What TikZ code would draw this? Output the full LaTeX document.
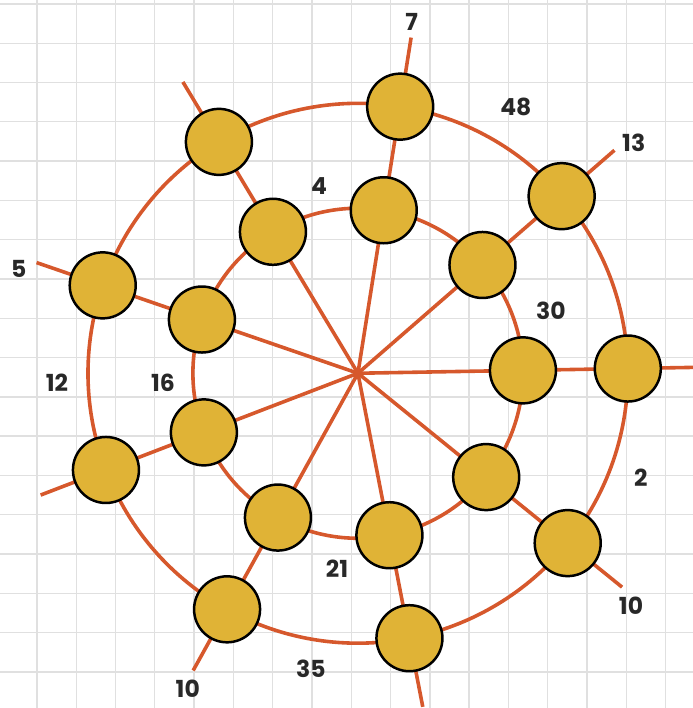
\documentclass[tikz,border=0pt]{standalone}
\usepackage{fontspec}
\setmainfont{Poppins}
\usetikzlibrary{backgrounds}
\definecolor{road}{RGB}{214,88,44}
\definecolor{bead}{RGB}{224,179,54}
\definecolor{ink}{RGB}{40,40,40}
\definecolor{paper}{RGB}{224,224,224}
\tikzset{
  stone/.style={circle,draw=black,line width=1.8pt,fill=bead,minimum size=1.68cm,inner sep=0pt},
  path/.style={draw=road,line width=2.6pt},
  weight/.style={text=ink,font=\bfseries\fontsize{17}{20}\selectfont},
}
\begin{document}
\begin{tikzpicture}
  \useasboundingbox (0,0) rectangle (17.63,18.02);
  \clip (0,0) rectangle (17.63,18.02);
  \coordinate (c) at (9.11,8.52);
  \begin{scope}[shift={(9.11,8.52)}]
    \foreach \k in {0,...,8} {
      \pgfmathsetmacro{\a}{1+40*\k}
      \node[stone] (i\k) at (\a:4.2) {};
      \node[stone] (o\k) at (\a:6.87) {};
      \coordinate (e\k) at (\a:8.65);
    }
  \end{scope}
  \begin{scope}[on background layer]
    \draw[paper,line width=1pt,shift={(0.94,0.92)}] (-1,-1) grid (17,18);
    \foreach \k [evaluate=\k as \n using {int(mod(\k+1,9))}] in {0,...,8} {
      \draw[path] (c) -- (i\k.center) -- (o\k.center) -- (e\k);
      \draw[path] (i\k.center) to[bend right=20,looseness=0.88] (i\n.center);
      \draw[path] (o\k.center) to[bend right=20,looseness=0.88] (o\n.center);
    }
  \end{scope}
  \node[weight] (w7) at (10.48,17.46) {7};
  \node[weight] (w48) at (13.13,15.29) {48};
  \node[weight] (w13) at (16.13,14.38) {13};
  \node[weight] (w4) at (8.12,13.28) {4};
  \node[weight] (w5) at (0.48,11.17) {5};
  \node[weight] (w30) at (14.02,10.10) {30};
  \node[weight] (w12) at (1.45,8.27) {12};
  \node[weight] (w16) at (4.15,8.27) {16};
  \node[weight] (w2) at (16.31,5.85) {2};
  \node[weight] (w21) at (8.58,3.54) {21};
  \node[weight] (w10a) at (16.06,2.60) {10};
  \node[weight] (w35) at (7.91,0.99) {35};
  \node[weight] (w10b) at (4.78,0.48) {10};
\end{tikzpicture}
\end{document}
